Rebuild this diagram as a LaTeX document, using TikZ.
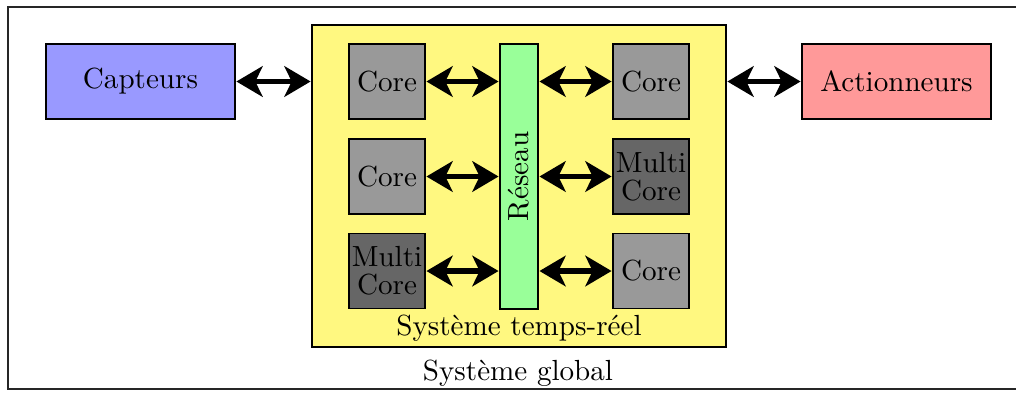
\documentclass[tikz,border=0pt]{standalone}
\usetikzlibrary{arrows.meta}
\begin{document}
\begin{tikzpicture}[x=0.3436pt,y=-0.3436pt,
  box/.style={draw=black,inner sep=0pt,align=center},
  corebox/.style={box,fill=black!40,minimum width=26.1pt,minimum height=25.8pt,font=\linespread{0.8}\selectfont},
  mcore/.style={corebox,fill=black!60},
  endbox/.style={box,minimum width=64.9pt,minimum height=25.8pt},
  arr/.style={line width=2pt,{Stealth[length=9pt,width=10.5pt,inset=2.5pt]}-{Stealth[length=9pt,width=10.5pt,inset=2.5pt]},shorten <=0.3pt,shorten >=0.3pt},
  lbl/.style={inner sep=0pt}]
\clip (0,0) rectangle (1016,392);
\node[draw=black!85,line width=0.7pt,minimum width=350.5pt,minimum height=131.3pt,inner sep=0pt] (global) at (518,198) {};
\node[lbl] (globallbl) at (518,373) {Système global};
\node[box,fill=yellow!50,minimum width=142.2pt,minimum height=110.6pt] (sys) at (519,186) {};
\node[lbl] (syslbl) at (519,328) {Système temps-réel};
\node[endbox,fill=blue!40] (capt) at (140.5,81.5) {Capteurs};
\node[endbox,fill=red!40] (act) at (896.5,81.5) {Actionneurs};
\node[box,fill=green!40,minimum width=13.06pt,minimum height=91.05pt] (res) at (519,176.5) {};
\node[rotate=90,lbl] (reslbl) at (res.center) {Réseau};
\node[corebox] (c1) at (387,81.5) {Core};
\node[corebox] (c2) at (387,176.5) {Core};
\node[mcore] (c3) at (387,271) {Multi\\Core};
\node[corebox] (c4) at (651,81.5) {Core};
\node[mcore] (c5) at (651,176.5) {Multi\\Core};
\node[corebox] (c6) at (651,271) {Core};
\draw[arr] (capt.east) -- (capt.east -| sys.west);
\draw[arr] (act.west -| sys.east) -- (act.west);
\foreach \c in {c1,c2,c3} \draw[arr] (\c.east) -- (\c.east -| res.west);
\foreach \c in {c4,c5,c6} \draw[arr] (\c.west -| res.east) -- (\c.west);
\end{tikzpicture}
\end{document}
